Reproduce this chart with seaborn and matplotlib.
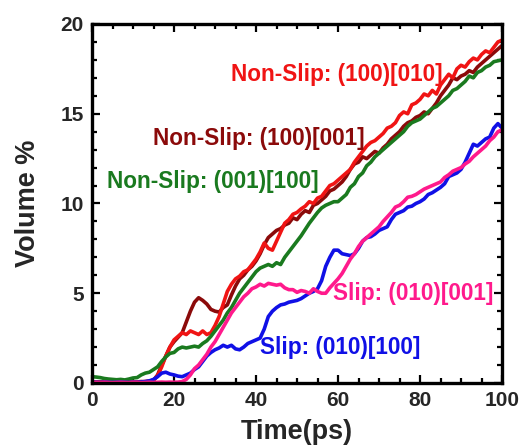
import numpy as np
import pandas as pd
import seaborn as sns
import matplotlib.pyplot as plt
from matplotlib.ticker import MultipleLocator

# Time axis (ps)
time_ps = list(range(0, 101))

# Volume % for each orientation
nonslip_100_010 = [
    0.03, 0.04, 0.03, 0.05, 0.04, 0.03, 0.05, 0.04, 0.06, 0.05,
    0.04, 0.06, 0.05, 0.08, 0.10, 0.15, 0.40, 0.90, 1.50, 2.00,
    2.40, 2.60, 2.80, 2.70, 2.90, 2.80, 2.70, 2.90, 2.70, 2.80,
    3.20, 3.70, 4.40, 5.10, 5.50, 5.80, 5.95, 6.20, 6.30, 6.60,
    6.90, 7.30, 7.80, 7.50, 7.40, 7.90, 8.40, 8.90, 9.10, 9.40,
    9.50, 9.70, 9.85, 10.10, 10.00, 10.30, 10.40, 10.70, 11.00, 11.10,
    11.30, 11.50, 11.70, 11.90, 12.30, 12.60, 12.90, 13.20, 13.40, 13.50,
    13.70, 13.90, 14.20, 14.30, 14.50, 14.90, 15.10, 15.00, 15.50, 15.60,
    15.80, 16.10, 16.00, 16.30, 16.10, 16.60, 16.90, 17.20, 17.00, 17.50,
    17.70, 17.60, 17.90, 18.10, 18.00, 18.30, 18.50, 18.40, 18.70, 19.00,
    19.10,
]
nonslip_100_001 = [
    0.05, 0.06, 0.05, 0.07, 0.06, 0.05, 0.06, 0.08, 0.06, 0.07,
    0.05, 0.06, 0.08, 0.07, 0.10, 0.15, 0.45, 1.00, 1.50, 2.00,
    2.30, 2.55, 2.80, 3.40, 4.00, 4.50, 4.75, 4.60, 4.40, 4.10,
    4.00, 3.95, 4.20, 4.35, 4.90, 5.40, 5.80, 6.00, 6.30, 6.50,
    6.80, 7.20, 7.70, 8.10, 8.30, 8.50, 8.60, 8.80, 8.90, 9.20,
    9.10, 9.40, 9.60, 9.50, 9.90, 10.00, 10.20, 10.40, 10.70, 10.80,
    11.00, 11.20, 11.50, 11.90, 12.20, 12.30, 12.60, 12.50, 12.70, 12.90,
    12.80, 13.10, 13.30, 13.60, 13.80, 14.00, 14.30, 14.50, 14.60, 14.80,
    14.90, 15.10, 15.00, 15.30, 15.60, 16.00, 16.30, 16.60, 17.00, 16.90,
    17.10, 17.20, 17.40, 17.30, 17.60, 17.80, 18.00, 18.20, 18.40, 18.60,
    18.80,
]
nonslip_001_100 = [
    0.35, 0.33, 0.30, 0.25, 0.22, 0.20, 0.18, 0.20, 0.17, 0.22,
    0.28, 0.30, 0.45, 0.55, 0.60, 0.75, 0.90, 1.20, 1.45, 1.65,
    1.70, 1.90, 2.00, 1.95, 2.00, 2.05, 2.00, 2.20, 2.35, 2.60,
    2.90, 3.20, 3.50, 3.90, 4.20, 4.60, 5.00, 5.30, 5.60, 5.90,
    6.20, 6.40, 6.50, 6.60, 6.50, 6.70, 6.60, 7.00, 7.30, 7.60,
    7.90, 8.20, 8.55, 8.90, 9.20, 9.50, 9.75, 9.90, 10.00, 10.10,
    10.10, 10.30, 10.50, 10.90, 11.10, 11.50, 11.70, 12.10, 12.30, 12.60,
    12.80, 13.00, 13.20, 13.40, 13.60, 13.80, 14.00, 14.30, 14.50, 14.60,
    14.70, 14.90, 15.10, 15.30, 15.40, 15.60, 15.80, 16.00, 16.30, 16.40,
    16.60, 16.80, 17.10, 17.00, 17.30, 17.40, 17.60, 17.70, 17.90, 17.95,
    18.00,
]
slip_010_100 = [
    0.03, 0.04, 0.03, 0.05, 0.04, 0.03, 0.04, 0.05, 0.04, 0.03,
    0.05, 0.04, 0.06, 0.08, 0.12, 0.20, 0.35, 0.55, 0.60, 0.50,
    0.45, 0.38, 0.35, 0.45, 0.55, 0.75, 0.90, 1.20, 1.50, 1.70,
    1.85, 1.95, 2.10, 2.00, 2.10, 1.90, 1.85, 2.00, 2.20, 2.30,
    2.40, 2.50, 3.00, 3.70, 4.00, 4.20, 4.35, 4.40, 4.50, 4.55,
    4.60, 4.70, 4.85, 5.00, 5.10, 5.25, 5.70, 6.50, 7.00, 7.40,
    7.40, 7.20, 7.15, 7.10, 7.20, 7.50, 7.90, 8.10, 8.15, 8.30,
    8.50, 8.60, 8.70, 9.10, 9.40, 9.50, 9.60, 9.80, 9.85, 10.00,
    10.10, 10.25, 10.50, 10.60, 10.75, 10.90, 11.10, 11.50, 11.60, 11.70,
    11.90, 12.30, 12.80, 13.30, 13.20, 13.40, 13.60, 13.70, 14.20, 14.45,
    14.20,
]
slip_010_001 = [
    0.02, 0.03, 0.02, 0.04, 0.03, 0.02, 0.03, 0.04, 0.03, 0.02,
    0.04, 0.03, 0.02, 0.03, 0.04, 0.03, 0.04, 0.05, 0.04, 0.05,
    0.04, 0.05, 0.08, 0.20, 0.45, 0.80, 1.00, 1.30, 1.60, 2.00,
    2.30, 2.70, 3.10, 3.50, 3.90, 4.20, 4.50, 4.80, 5.00, 5.25,
    5.35, 5.50, 5.40, 5.55, 5.50, 5.45, 5.50, 5.30, 5.20, 5.20,
    5.05, 5.15, 5.10, 5.00, 5.25, 5.10, 5.00, 5.00, 5.30, 5.55,
    5.80, 6.10, 6.50, 6.90, 7.20, 7.60, 7.90, 8.10, 8.30, 8.50,
    8.70, 9.00, 9.25, 9.50, 9.80, 9.90, 10.10, 10.35, 10.40, 10.50,
    10.65, 10.80, 10.90, 11.00, 11.10, 11.20, 11.45, 11.60, 11.80, 11.90,
    12.00, 12.20, 12.35, 12.60, 12.80, 13.00, 13.20, 13.50, 13.70, 14.00,
    14.10,
]

series_names = [
    "Non-Slip: (100)[001]",
    "Non-Slip: (100)[010]",
    "Non-Slip: (001)[100]",
    "Slip: (010)[100]",
    "Slip: (010)[001]",
]
series_values = [nonslip_100_001, nonslip_100_010, nonslip_001_100,
                 slip_010_100, slip_010_001]
colors = {
    "Non-Slip: (100)[001]": "#8b0a0a",
    "Non-Slip: (100)[010]": "#f01414",
    "Non-Slip: (001)[100]": "#1a7a1f",
    "Slip: (010)[100]": "#1010e6",
    "Slip: (010)[001]": "#ff1a8c",
}

df = pd.concat(
    [pd.DataFrame({"Time": time_ps, "Volume": v, "Case": n})
     for n, v in zip(series_names, series_values)],
    ignore_index=True,
)

sns.set_style("ticks")
plt.rcParams["font.family"] = ["Liberation Sans", "DejaVu Sans"]
plt.rcParams["font.weight"] = "bold"

fig = plt.figure(figsize=(5.3, 4.46), dpi=100)
ax = fig.add_axes([0.1736, 0.1413, 0.7736, 0.8049])

sns.lineplot(data=df, x="Time", y="Volume", hue="Case",
             hue_order=series_names, palette=colors,
             linewidth=2.6, legend=False, ax=ax, sort=False)

ax.set_xlim(0, 100)
ax.set_ylim(0, 20)
ax.xaxis.set_major_locator(MultipleLocator(20))
ax.xaxis.set_minor_locator(MultipleLocator(5))
ax.yaxis.set_major_locator(MultipleLocator(5))
ax.yaxis.set_minor_locator(MultipleLocator(1))
ax.tick_params(which="both", direction="in", top=True, right=True,
               width=1.6, color="black")
ax.tick_params(which="major", length=6, labelsize=15, pad=6)
ax.tick_params(which="minor", length=3.5)
for lab in ax.get_xticklabels() + ax.get_yticklabels():
    lab.set_fontweight("bold")
for sp in ax.spines.values():
    sp.set_linewidth(2.4)
    sp.set_color("black")

ax.set_xlabel("Time(ps)", fontsize=19.5, fontweight="bold", labelpad=6)
ax.set_ylabel("Volume %", fontsize=19.5, fontweight="bold", labelpad=14)

labels = [
    ("Non-Slip: (100)[010]", 34.0, 17.2),
    ("Non-Slip: (100)[001]", 14.9, 13.6),
    ("Non-Slip: (001)[100]", 3.7, 11.2),
    ("Slip: (010)[001]", 58.7, 5.0),
    ("Slip: (010)[100]", 40.9, 1.95),
]
for text, x, y in labels:
    ax.text(x, y, text, color=colors[text], fontsize=16.3,
            fontweight="bold", ha="left", va="center")

fig.savefig("out.png", dpi=100)
